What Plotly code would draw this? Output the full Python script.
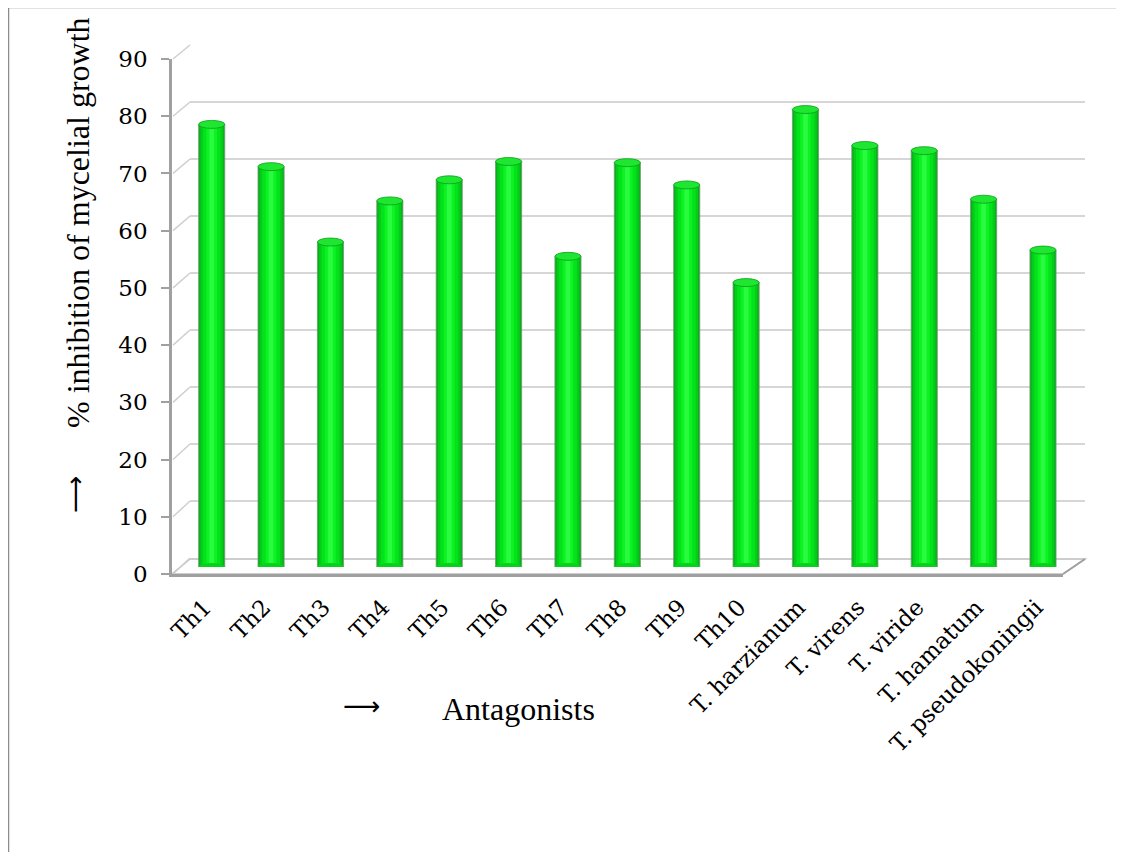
import plotly.graph_objects as go

# ---------------- data ----------------
categories = ["Th1", "Th2", "Th3", "Th4", "Th5", "Th6", "Th7", "Th8", "Th9", "Th10",
              "T. harzianum", "T. virens", "T. viride", "T. hamatum", "T. pseudokoningii"]
inhibition = [77.5, 70.1, 56.9, 64.1, 67.8, 71.0, 54.4, 70.8, 66.9, 49.8,
              80.1, 73.8, 72.9, 64.4, 55.5]
y_ticks = [0, 10, 20, 30, 40, 50, 60, 70, 80, 90]

y_title = "% inhibition of mycelial growth"
x_title = "Antagonists"

# ---------------- layout helpers (page pixel -> paper) ----------------
W, H = 1124, 852
OFF = 8  # page body margin


def fx(px):
    return (px - OFF) / W


def fy(py):
    return 1 - (py - OFF) / H


SERIF = "Liberation Serif, Times New Roman, serif"
TICKFONT = "DejaVu Serif, serif"

fig = go.Figure()

# back wall (grid only) - subplot 1
fig.add_trace(go.Scatter(x=[0, 1], y=[0, 0], mode="markers", marker=dict(opacity=0),
                         hoverinfo="skip", showlegend=False, xaxis="x", yaxis="y"))

# front axes (ticks & labels) - subplot 2
fig.add_trace(go.Scatter(x=categories, y=inhibition, mode="markers", marker=dict(opacity=0),
                         hoverinfo="skip", showlegend=False, xaxis="x2", yaxis="y2"))

# cylinders approximated by layered bars - subplot 3 (mid depth)
BAR_W = 0.44
layers = [
    (BAR_W, "#0AAE1A", "#6E9A72", 0.8),
    (0.38, "#05CC19", None, 0),
    (0.30, "#04E21B", None, 0),
    (0.18, "#0CF222", None, 0),
    (0.08, "#2AFB40", None, 0),
]
for w, col, lc, lw in layers:
    fig.add_trace(go.Bar(x=categories, y=inhibition, width=w,
                         marker=dict(color=col, line=dict(color=lc or col, width=lw)),
                         hoverinfo="skip", showlegend=False, xaxis="x3", yaxis="y3"))

shapes = []
# floor
shapes.append(dict(type="path", xref="paper", yref="paper", layer="below",
                   path=f"M {fx(172)},{fy(574)} L {fx(1063)},{fy(574)} L {fx(1085)},{fy(559)} L {fx(190)},{fy(559)} Z",
                   fillcolor="white", line=dict(color="#BDBDBD", width=1.5)))
# right slanted floor edge (darker)
shapes.append(dict(type="line", xref="paper", yref="paper", layer="above",
                   x0=fx(1063), y0=fy(574), x1=fx(1085), y1=fy(559),
                   line=dict(color="#A0A0A0", width=2)))
# left wall slants from front ticks to back gridlines
for k in y_ticks:
    yf = 574 - k * (574 - 59) / 90
    yb = 558 - k * (558 - 45) / 90
    shapes.append(dict(type="line", xref="paper", yref="paper", layer="below",
                       x0=fx(173), y0=fy(yf), x1=fx(190), y1=fy(yb),
                       line=dict(color="#CFCFCF", width=1.5)))

# cylinder caps (ellipses) placed on the bars' own axes
EH = 0.7  # half height of cap in data units
for i, v in enumerate(inhibition):
    shapes.append(dict(type="circle", xref="x3", yref="y3", layer="above",
                       x0=i - BAR_W / 2, x1=i + BAR_W / 2, y0=-EH, y1=EH,
                       fillcolor="#07D21B", line=dict(color="#07D21B", width=0)))
    shapes.append(dict(type="circle", xref="x3", yref="y3", layer="above",
                       x0=i - BAR_W / 2, x1=i + BAR_W / 2, y0=v - EH, y1=v + EH,
                       fillcolor="#1FE630", line=dict(color="#0B9E1A", width=0.8)))

# outer border
shapes.append(dict(type="rect", xref="paper", yref="paper", layer="above",
                   x0=fx(8.5), y0=fy(900), x1=fx(1117), y1=fy(7.5),
                   line=dict(color="#8C8C8C", width=1.5), fillcolor="rgba(0,0,0,0)"))

ARROWFONT = "DejaVu Sans, sans-serif"
annotations = [
    dict(text=y_title, xref="paper", yref="paper", x=fx(78), y=fy(223), textangle=-90,
         showarrow=False, font=dict(family=SERIF, size=32, color="black"),
         xanchor="center", yanchor="middle"),
    dict(text="⟶", xref="paper", yref="paper", x=fx(75), y=fy(495), textangle=-90,
         showarrow=False, font=dict(family=ARROWFONT, size=26, color="black"),
         xanchor="center", yanchor="middle"),
    dict(text="⟶", xref="paper", yref="paper", x=fx(361), y=fy(706),
         showarrow=False, font=dict(family=ARROWFONT, size=26, color="black"),
         xanchor="center", yanchor="middle"),
    dict(text=x_title, xref="paper", yref="paper", x=fx(518), y=fy(709),
         showarrow=False, font=dict(family=SERIF, size=32, color="black"),
         xanchor="center", yanchor="middle"),
]

n = len(categories)
sp = (1043 - 211.7) / (n - 1)

fig.update_layout(
    width=W, height=H,
    margin=dict(l=0, r=0, t=0, b=0, pad=0),
    paper_bgcolor="white",
    plot_bgcolor="rgba(0,0,0,0)",
    barmode="overlay",
    showlegend=False,
    shapes=shapes,
    annotations=annotations,
    xaxis=dict(domain=[fx(190), fx(1085)], range=[0, 1], showgrid=False, zeroline=False,
               showticklabels=False, ticks="", showline=False, automargin=False, fixedrange=True),
    yaxis=dict(domain=[fy(558), fy(45)], range=[0, 90], tickvals=y_ticks, showgrid=True,
               gridcolor="#D6D6D6", gridwidth=2, zeroline=False, showticklabels=False,
               ticks="", showline=False, automargin=False, fixedrange=True),
    xaxis2=dict(domain=[fx(172), fx(1063)], anchor="y2", type="category",
                categoryorder="array", categoryarray=categories,
                range=[-(211.7 - 172) / sp, (n - 1) + (1063 - 1043) / sp],
                showgrid=False, zeroline=False, showline=True, linecolor="#A0A0A0", linewidth=2.5,
                ticks="", tickangle=-45, ticklabelstandoff=8, ticklabelshift=-7,
                tickfont=dict(family=TICKFONT, size=23, color="black"), automargin=False, fixedrange=True),
    yaxis2=dict(domain=[fy(574), fy(59)], anchor="x2", range=[0, 90], tickvals=y_ticks,
                showgrid=False, zeroline=False, showline=True, linecolor="#A0A0A0", linewidth=2.5,
                ticks="outside", ticklen=8, tickwidth=2, tickcolor="#A0A0A0", ticklabelstandoff=9,
                tickfont=dict(family=TICKFONT, size=23, color="black"), automargin=False, fixedrange=True),
    xaxis3=dict(domain=[fx(211.7 - sp / 2), fx(211.7 - sp / 2 + n * sp)], anchor="y3",
                type="category", categoryorder="array", categoryarray=categories,
                range=[-0.5, n - 0.5], showgrid=False, zeroline=False, showline=False,
                showticklabels=False, ticks="", automargin=False, fixedrange=True),
    yaxis3=dict(domain=[fy(567), fy(53)], anchor="x3", range=[0, 90], showgrid=False,
                zeroline=False, showline=False, showticklabels=False, ticks="",
                automargin=False, fixedrange=True),
)

fig.write_html("out.html")
